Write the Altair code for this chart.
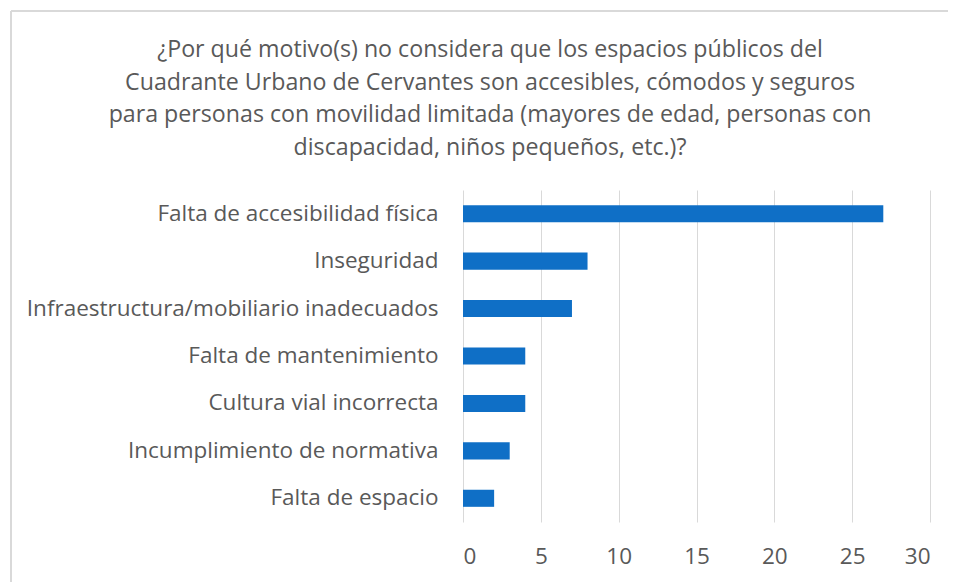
import altair as alt
import pandas as pd

categories = [
    "Falta de accesibilidad física",
    "Inseguridad",
    "Infraestructura/mobiliario inadecuados",
    "Falta de mantenimiento",
    "Cultura vial incorrecta",
    "Incumplimiento de normativa",
    "Falta de espacio",
]
values = [27, 8, 7, 4, 4, 3, 2]
x_ticks = [0, 5, 10, 15, 20, 25, 30]
title_lines = [
    "¿Por qué motivo(s) no considera que los espacios públicos del",
    "Cuadrante Urbano de Cervantes son accesibles, cómodos y seguros",
    "para personas con movilidad limitada (mayores de edad, personas con",
    "discapacidad, niños pequeños, etc.)?",
]

df = pd.DataFrame({"cat": categories, "val": values})
FONT = "Open Sans"
GRAY = "#595959"
FS = 22.5

bars = alt.Chart(df).mark_bar(color="#0F6FC6").encode(
    x=alt.X("val:Q", scale=alt.Scale(domain=[0, 30], nice=False),
            axis=alt.Axis(values=x_ticks, title=None, grid=True, gridColor="#d9d9d9",
                          gridWidth=1, domain=False, ticks=False, labelFontSize=FS,
                          labelColor=GRAY, labelFont=FONT, labelPadding=23)),
    y=alt.Y("cat:N", sort=categories,
            scale=alt.Scale(paddingInner=0.64, paddingOuter=0.32),
            axis=alt.Axis(title=None, domain=False, ticks=False, labelFontSize=FS,
                          labelColor=GRAY, labelFont=FONT, labelPadding=25, labelLimit=0)),
)

title_df = pd.DataFrame({"t": ["\n".join(title_lines)]})
title = alt.Chart(title_df).mark_text(
    font=FONT, fontSize=23.2, color=GRAY, align="center", baseline="middle",
    lineBreak="\n", lineHeight=32.7,
).encode(text="t:N", x=alt.value(27), y=alt.value(-140))

border_left = alt.Chart(df).mark_rule(color="#d9d9d9", strokeWidth=1.5).encode(
    x=alt.value(-452), y=alt.value(-179), y2=alt.value(420)
)
border_top = alt.Chart(df).mark_rule(color="#d9d9d9", strokeWidth=1.5).encode(
    x=alt.value(-452), x2=alt.value(520), y=alt.value(-179)
)

chart = alt.layer(bars, title, border_left, border_top).properties(
    width=467,
    height=332,
    autosize=alt.AutoSizeParams(type="none"),
    padding={"left": 455, "top": 182, "right": 18, "bottom": 60},
).configure_view(stroke=None)

chart.save("out.html", embed_options={"renderer": "svg", "actions": False})
